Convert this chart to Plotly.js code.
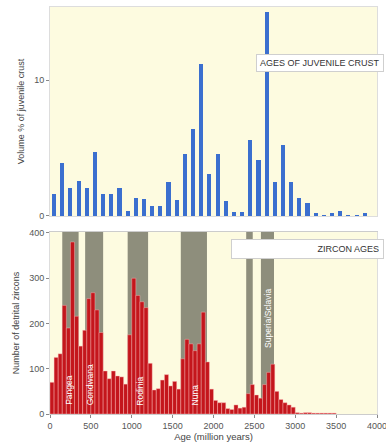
<!DOCTYPE html>
<html>
<head>
<meta charset="utf-8">
<script src="https://cdn.plot.ly/plotly-3.0.1.min.js"></script>
<style>html,body{margin:0;padding:0;background:#fff;}#chart{width:386px;height:448px;}</style>
</head>
<body>
<div id="chart"></div>
<script>
// Top panel: volume % of juvenile crust, 100 My bins (centres)
var crustAges = [50,150,250,350,450,550,650,750,850,950,1050,1150,1250,1350,1450,1550,1650,1750,1850,1950,2050,2150,2250,2350,2450,2550,2650,2750,2850,2950,3050,3150,3250,3350,3450,3550,3650,3750,3850];
var crustVolume = [1.65,3.9,2.05,2.6,2.1,4.7,1.65,1.65,2.05,0.4,1.35,1.25,0.7,0.7,2.5,1.2,4.6,6.4,11.2,3.1,4.6,1.1,0.3,0.3,5.6,4.1,15.05,2.5,5.25,2.5,1.35,0.95,0.25,0.05,0.2,0.4,0.1,0.05,0.2];

// Bottom panel: number of detrital zircons, 50 My bins (centres)
var zirconAges = [25,75,125,175,225,275,325,375,425,475,525,575,625,675,725,775,825,875,925,975,1025,1075,1125,1175,1225,1275,1325,1375,1425,1475,1525,1575,1625,1675,1725,1775,1825,1875,1925,1975,2025,2075,2125,2175,2225,2275,2325,2375,2425,2475,2525,2575,2625,2675,2725,2775,2825,2875,2925,2975,3025,3075,3125,3175,3225,3275,3325,3375,3425,3475];
var zirconCounts = [70,125,133,240,190,380,216,150,185,255,268,230,180,95,78,95,84,82,66,175,300,262,248,235,112,53,56,75,87,62,72,55,122,165,155,140,155,225,115,55,30,25,25,12,10,20,13,15,45,65,42,35,65,92,110,50,32,25,20,15,3,2,3,3,2,2,2,2,2,2];

// Supercontinent bands (start, end, label, label x)
var bandStart = [150,430,950,1600,2400,2580];
var bandEnd   = [350,650,1200,1920,2480,2740];
var bandNames = ["Pangea","Gondwana","Rodinia","Nuna","","Superia/Sclavia"];
var bandLabelX = [240,485,1100,1770,0,2665];

var xTicks = [0,500,1000,1500,2000,2500,3000,3500,4000];
var xTickText = ["0","500","1000","1500","2000","2500","3000","3500","4000"];

var fontFam = "'Liberation Sans Narrow','Liberation Sans',Arial,sans-serif";

var traces = [
  {type:'bar', x:crustAges, y:crustVolume, width:50, xaxis:'x', yaxis:'y',
   marker:{color:'#3b6fcf', line:{width:0}}, hoverinfo:'x+y'},
  {type:'bar', x:zirconAges, y:zirconCounts, width:50, xaxis:'x2', yaxis:'y2',
   marker:{color:'#c4161c', line:{color:'rgba(255,190,190,0.7)', width:0.6}}, hoverinfo:'x+y'}
];

var shapes = [];
var annotations = [];
for (var i=0;i<bandStart.length;i++){
  shapes.push({type:'rect', xref:'x2', yref:'y2', x0:bandStart[i], x1:bandEnd[i], y0:0, y1:402,
    fillcolor:'#8e8e7c', line:{width:0}, layer:'below'});
  if (bandNames[i]) {
    var isLast = (i===5);
    annotations.push({xref:'x2', yref:'y2', x:bandLabelX[i], y:isLast?212:15,
      yanchor:isLast?'middle':'bottom', xanchor:'center', text:bandNames[i], showarrow:false,
      textangle:-90, font:{family:fontFam, size:8.5, color:'#ffffff'}});
  }
}

annotations.push({xref:'paper', yref:'paper', x:1.02, y:0.863, xanchor:'right', yanchor:'middle',
  text:'AGES OF JUVENILE CRUST', showarrow:false, bgcolor:'#ffffff', bordercolor:'#cfcfcf',
  borderwidth:1, borderpad:3, font:{family:fontFam, size:9, color:'#333333'}});
annotations.push({xref:'paper', yref:'paper', x:1.02, y:0.405, xanchor:'right', yanchor:'middle',
  text:'ZIRCON AGES', width:143, align:'right', showarrow:false, bgcolor:'#ffffff', bordercolor:'#cfcfcf',
  borderwidth:1, borderpad:4, font:{family:fontFam, size:9, color:'#333333'}});

var layout = {
  width:386, height:448,
  margin:{l:50, r:9, t:7, b:34},
  paper_bgcolor:'#ffffff',
  showlegend:false,
  bargap:0,
  font:{family:fontFam, size:9, color:'#555555'},
  xaxis:{domain:[0,1], anchor:'y', range:[0,4000], showticklabels:false, ticks:'', showgrid:false,
    zeroline:false, showline:true, mirror:true, linecolor:'#dddddd', linewidth:1},
  yaxis:{domain:[0.4865,1], anchor:'x', range:[0,15.4], tickvals:[0,10], ticktext:['0','10'],
    ticks:'outside', ticklen:3, tickcolor:'#888888', showgrid:false, zeroline:false,
    showline:true, mirror:true, linecolor:'#dddddd', linewidth:1,
    title:{text:'Volume % of juvenile crust', font:{family:fontFam, size:9, color:'#444444'}, standoff:8}},
  xaxis2:{domain:[0,1], anchor:'y2', range:[0,4000], tickvals:xTicks, ticktext:xTickText,
    ticklabeloverflow:'allow',
    ticks:'outside', ticklen:3, tickcolor:'#888888', showgrid:false, zeroline:false,
    showline:true, mirror:true, linecolor:'#cccccc', linewidth:1,
    title:{text:'Age (million years)', font:{family:fontFam, size:9.5, color:'#444444'}, standoff:2}},
  yaxis2:{domain:[0,0.447], anchor:'x2', range:[0,402], tickvals:[0,100,200,300,400],
    ticks:'outside', ticklen:3, tickcolor:'#888888', showgrid:false, zeroline:false,
    showline:true, mirror:true, linecolor:'#dddddd', linewidth:1,
    title:{text:'Number of detrital zircons', font:{family:fontFam, size:9, color:'#444444'}, standoff:8}},
  plot_bgcolor:'#fdfbe0',
  shapes:shapes,
  annotations:annotations
};

Plotly.newPlot('chart', traces, layout, {staticPlot:true, displayModeBar:false});
</script>
</body>
</html>
